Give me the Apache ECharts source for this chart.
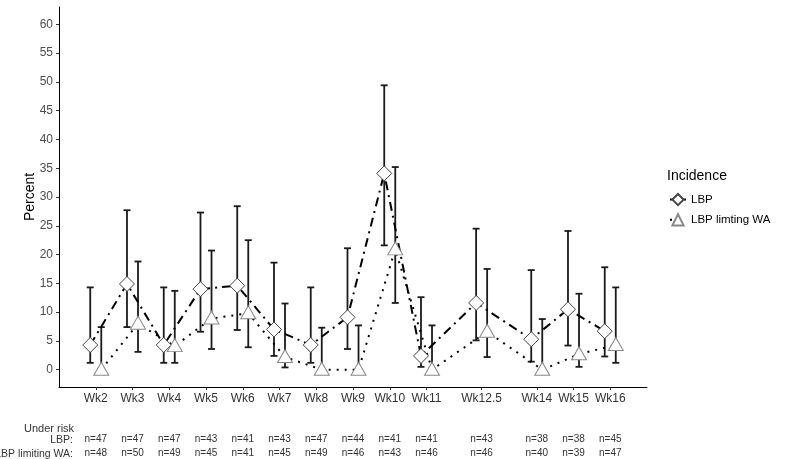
<!DOCTYPE html>
<html>
<head>
<meta charset="utf-8">
<script src="https://cdn.jsdelivr.net/npm/echarts@6/dist/echarts.min.js"></script>
<style>html,body{margin:0;padding:0;background:#fff;}#c{width:787px;height:459px;}</style>
</head>
<body>
<div id="c"></div>
<script>
const weeks = [2, 3, 4, 5, 6, 7, 8, 9, 10, 11, 12.5, 14, 15, 16];
const weekLabels = ['Wk2','Wk3','Wk4','Wk5','Wk6','Wk7','Wk8','Wk9','Wk10','Wk11','Wk12.5','Wk14','Wk15','Wk16'];
const yTicks = [0, 5, 10, 15, 20, 25, 30, 35, 40, 45, 50, 55, 60];

const lbpPct  = [4.3, 14.9, 4.3, 14.0, 14.6, 7.0, 4.3, 9.1, 34.1, 2.4, 11.6, 5.3, 10.5, 6.7];
const lbpLow  = [1.2, 7.4, 1.2, 6.6, 6.9, 2.4, 1.2, 3.6, 21.6, 0.5, 5.1, 1.4, 4.2, 2.3];
const lbpHigh = [14.3, 27.7, 14.3, 27.3, 28.4, 18.6, 14.3, 21.1, 49.4, 12.6, 24.5, 17.3, 24.1, 17.8];

const waPct  = [0, 8.0, 4.1, 8.9, 9.8, 2.2, 0, 0, 20.9, 0, 6.6, 0, 2.7, 4.3];
const waLow  = [0, 3.1, 1.2, 3.6, 3.9, 0.4, 0, 0, 11.6, 0, 2.2, 0, 0.5, 1.2];
const waHigh = [7.4, 18.8, 13.7, 20.7, 22.5, 11.5, 7.3, 7.7, 35.2, 7.7, 17.5, 8.8, 13.2, 14.3];

const nLbp = [47, 47, 47, 43, 41, 43, 47, 44, 41, 41, 43, 38, 38, 45];
const nWa  = [48, 50, 49, 45, 41, 45, 49, 46, 43, 46, 46, 40, 39, 47];

const dodge = 0.15;
const FONT = '"Liberation Sans", Arial, sans-serif';

const labelOf = {}; const nLbpOf = {}; const nWaOf = {};
weeks.forEach((w, i) => { labelOf[w] = weekLabels[i]; nLbpOf[w] = 'n=' + nLbp[i]; nWaOf[w] = 'n=' + nWa[i]; });

const lbpLine = weeks.map((w, i) => [w - dodge, lbpPct[i]]);
const waLine = weeks.map((w, i) => [w + dodge, waPct[i]]);
const lbpErr = weeks.map((w, i) => [w - dodge, lbpLow[i], lbpHigh[i]]);
const waErr = weeks.map((w, i) => [w + dodge, waLow[i], waHigh[i]]);

function errItem(params, api) {
  const x = api.value(0), lo = api.value(1), hi = api.value(2);
  const a = api.coord([x, lo]), b = api.coord([x, hi]);
  const w = 3.5;
  const st = { stroke: '#1a1a1a', lineWidth: 1.8 };
  return {
    type: 'group',
    children: [
      { type: 'line', shape: { x1: a[0], y1: a[1], x2: b[0], y2: b[1] }, style: st },
      { type: 'line', shape: { x1: a[0] - w, y1: a[1], x2: a[0] + w, y2: a[1] }, style: st },
      { type: 'line', shape: { x1: b[0] - w, y1: b[1], x2: b[0] + w, y2: b[1] }, style: st }
    ]
  };
}

function nAxis(map, offset) {
  return {
    type: 'value', position: 'bottom', gridIndex: 0, min: 1, max: 17, offset: offset,
    axisLine: { show: false }, axisTick: { show: false }, splitLine: { show: false },
    axisLabel: { customValues: weeks, formatter: v => map[v] || '', margin: 0,
      fontSize: 10, color: '#333', fontFamily: FONT }
  };
}

const chart = echarts.init(document.getElementById('c'), null, { renderer: 'canvas' });
chart.setOption({
  animation: false,
  backgroundColor: '#fff',
  textStyle: { fontFamily: FONT },
  grid: { left: 59, right: 140, top: 7, bottom: 72, containLabel: false },
  title: {
    text: 'Incidence', left: 662, top: 164,
    textStyle: { fontSize: 14, fontWeight: 'normal', color: '#000', fontFamily: FONT }
  },
  legend: {
    data: ['LBP', 'LBP limting WA'], orient: 'vertical', left: 664, top: 188,
    itemWidth: 16, itemHeight: 14, itemGap: 7,
    textStyle: { fontSize: 11.5, color: '#000', fontFamily: FONT }
  },
  xAxis: [
    {
      type: 'value', min: 1, max: 17,
      axisLine: { show: true, onZero: false, lineStyle: { color: '#000', width: 1 } },
      axisTick: { show: true, customValues: weeks, length: 3, lineStyle: { color: '#333' } },
      axisLabel: { customValues: weeks, formatter: v => labelOf[v] || '', margin: 6,
        fontSize: 12, color: '#333', fontFamily: FONT },
      splitLine: { show: false }
    },
    nAxis(nLbpOf, 47),
    nAxis(nWaOf, 61)
  ],
  yAxis: {
    type: 'value', min: -3, max: 63,
    name: 'Percent', nameLocation: 'middle', nameGap: 22, nameMoveOverlap: false,
    nameTextStyle: { fontSize: 14, color: '#000', fontFamily: FONT },
    axisLine: { show: true, onZero: false, lineStyle: { color: '#000', width: 1 } },
    axisTick: { show: true, customValues: yTicks, length: 3, lineStyle: { color: '#333' } },
    axisLabel: { customValues: yTicks, margin: 6, fontSize: 12, color: '#4d4d4d', fontFamily: FONT },
    splitLine: { show: false }
  },
  graphic: [
    { type: 'text', x: 24, y: 429, style: { text: 'Under risk', fontSize: 11, fill: '#333', fontFamily: FONT, verticalAlign: 'middle' } },
    { type: 'text', x: 73, y: 440.5, style: { text: 'LBP:', fontSize: 10.5, fill: '#333', fontFamily: FONT, align: 'right', verticalAlign: 'middle' } },
    { type: 'text', x: 73, y: 454, style: { text: 'LBP limiting WA:', fontSize: 10.5, fill: '#333', fontFamily: FONT, align: 'right', verticalAlign: 'middle' } }
  ],
  series: [
    { type: 'custom', name: 'errLBP', renderItem: errItem, data: lbpErr, encode: { x: 0, y: [1, 2] }, z: 1, silent: true },
    { type: 'custom', name: 'errWA', renderItem: errItem, data: waErr, encode: { x: 0, y: [1, 2] }, z: 1, silent: true },
    {
      type: 'line', name: 'LBP', data: lbpLine, z: 3,
      symbol: 'diamond', symbolSize: 15, showSymbol: true,
      itemStyle: { color: '#fff', borderColor: '#444', borderWidth: 1 },
      lineStyle: { color: '#000', width: 2, type: [9, 5, 2, 5] }
    },
    {
      type: 'line', name: 'LBP limting WA', data: waLine, z: 3,
      symbol: 'triangle', symbolSize: [15, 13], symbolOffset: [0, -1], showSymbol: true,
      itemStyle: { color: '#fff', borderColor: '#888', borderWidth: 1 },
      lineStyle: { color: '#000', width: 2, type: [2, 6] }
    }
  ]
});
</script>
</body>
</html>
